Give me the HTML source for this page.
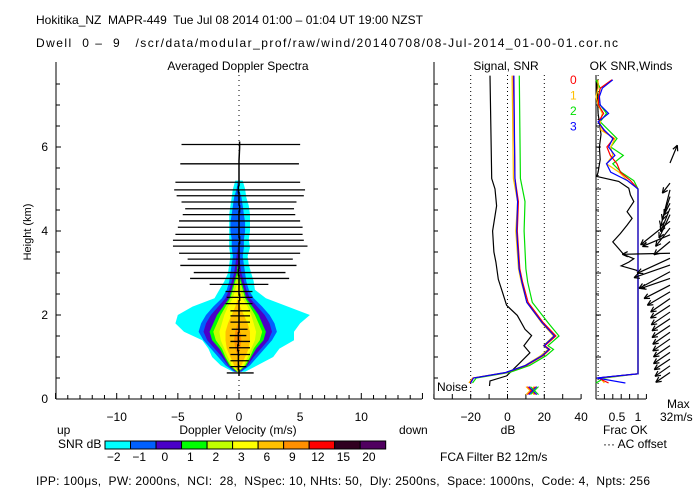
<!DOCTYPE html>
<html><head><meta charset="utf-8">
<style>
html,body{margin:0;padding:0;background:#fff;}
svg{display:block;font-family:"Liberation Sans",sans-serif;font-size:12px;}
text{fill:#000;white-space:pre;}
</style></head>
<body>
<svg id="chart" width="700" height="500" viewBox="0 0 700 500" xmlns="http://www.w3.org/2000/svg">
<rect x="0" y="0" width="700" height="500" fill="#fff"/>
<text x="36" y="24" textLength="387" lengthAdjust="spacing">Hokitika_NZ  MAPR-449  Tue Jul 08 2014 01:00 – 01:04 UT 19:00 NZST</text>
<text x="36" y="47" textLength="582" lengthAdjust="spacing">Dwell  0 –  9   /scr/data/modular_prof/raw/wind/20140708/08-Jul-2014_01-00-01.cor.nc</text>
<text x="238" y="70" text-anchor="middle">Averaged Doppler Spectra</text>
<text x="506" y="70" text-anchor="middle">Signal, SNR</text>
<text x="631" y="70" text-anchor="middle">OK SNR,Winds</text>
<text x="0" y="0" transform="translate(31,232) rotate(-90)" text-anchor="middle" font-size="11">Height (km)</text>
<text x="57" y="434">up</text>
<text x="238" y="434" text-anchor="middle">Doppler Velocity (m/s)</text>
<text x="399" y="434">down</text>
<text x="58" y="448">SNR dB</text>
<text x="508" y="434" text-anchor="middle">dB</text>
<text x="440" y="461">FCA Filter B2 12m/s</text>
<text x="603" y="434">Frac OK</text>
<text x="603" y="448">··· AC offset</text>
<text x="667" y="408">Max</text>
<text x="660" y="421">32m/s</text>
<text x="437" y="391">Noise</text>
<text x="36" y="485" textLength="614" lengthAdjust="spacing">IPP: 100μs,  PW: 2000ns,  NCI:  28,  NSpec: 10, NHts: 50,  Dly: 2500ns,  Space: 1000ns,  Code: 4,  Npts: 256</text>
<g id="plot"></g>
</svg>
<script>
// ---------- data ----------
const contourH = [0.65,0.8,1.0,1.2,1.4,1.6,1.8,2.0,2.2,2.4,2.6,2.8,3.0,3.2,3.4,3.6,3.8,4.0,4.2,4.4,4.6,4.8,5.0,5.2];
const cyanLeft  = [-0.5,-1.5,-2.2,-2.5,-3.0,-4.5,-5.2,-5.0,-3.8,-2.0,-1.6,-1.2,-0.9,-0.8,-0.7,-0.8,-0.8,-0.8,-0.8,-0.8,-0.7,-0.6,-0.5,-0.3];
const cyanRight = [0.5,1.5,2.8,3.3,4.5,4.5,5.0,5.8,4.0,2.2,1.3,1.2,1.0,0.8,0.7,0.9,0.8,0.9,0.9,0.9,0.8,0.6,0.5,0.3];
const blueHalf   = [0.3,1.0,1.6,2.2,2.8,3.2,3.0,2.6,2.0,1.3,0.9,0.7,0.6,0.5,0.4,0.5,0.5,0.6,0.6,0.5,0.4,0.3,0.1,0];
const purpleHalf = [0.2,0.8,1.3,1.9,2.5,2.8,2.6,2.2,1.6,1.0,0.7,0.5,0.3,0.2,0.1,0,0,0,0,0,0,0,0,0];
const greenHalf  = [0.1,0.7,1.1,1.5,2.1,2.3,2.0,1.7,1.2,0.7,0.5,0.3,0.1,0,0,0,0,0,0,0,0,0,0,0];
const ygHalf     = [0,0.6,1.0,1.3,1.8,2.0,1.7,1.4,1.0,0.6,0.4,0.2,0,0,0,0,0,0,0,0,0,0,0,0];
const yellowHalf = [0,0.5,0.8,1.1,1.4,1.5,1.3,1.1,0.8,0.4,0.2,0,0,0,0,0,0,0,0,0,0,0,0,0];
const orangeHalf = [0,0.3,0.6,0.9,1.0,1.0,0.8,0.5,0.2,0,0,0,0,0,0,0,0,0,0,0,0,0,0,0];
const dkOrangeHalf=[0,0,0,0.2,0.3,0.2,0,0,0,0,0,0,0,0,0,0,0,0,0,0,0,0,0,0];

const barH  = [0.62,0.77,0.91,1.06,1.22,1.37,1.51,1.66,1.83,1.98,2.1,2.27,2.42,2.56,2.73,2.87,3.01,3.18,3.33,3.47,3.64,3.78,3.92,4.09,4.24,4.39,4.53,4.69,4.84,4.98,5.16,5.6,6.06];
const barLo = [-1.0,-0.7,-0.7,-0.7,-0.8,-0.7,-0.75,-0.6,-0.7,-0.7,-0.7,-1.1,-1.0,-1.1,-2.4,-4.0,-3.7,-4.8,-4.2,-4.9,-5.4,-5.4,-5.2,-5.0,-4.9,-4.6,-4.4,-4.7,-5.1,-5.3,-5.2,-4.8,-4.7];
const barHi = [1.2,0.6,0.8,0.9,0.9,0.9,0.6,0.7,0.9,0.9,0.9,1.1,1.1,1.1,2.4,4.1,3.8,4.7,4.4,5.0,5.6,5.3,5.2,5.2,5.0,4.6,4.5,4.7,5.3,5.4,5.0,4.9,5.0];
const meanV = [0.0,-0.05,-0.05,-0.05,-0.1,-0.05,-0.05,0.0,0.0,0.0,0.0,0.0,0.05,0.0,0.0,0.0,-0.05,0.0,0.0,0.0,0.0,0.05,0.0,0.0,0.0,0.0,0.05,0.0,0.0,-0.05,0.0,0.0,0.05];

const snrH    = [0.38,0.5,0.63,0.8,1.03,1.18,1.27,1.5,1.82,2.3,2.78,3.1,4.0,4.7,5.25,7.7];
const snrRed  = [-20.4,-18.6,-0.5,10.3,19.4,23,20.3,26.3,19.4,11.2,8.2,6.7,5.3,5.9,4.1,3.2];
const snrOrange=[-21,-19,-1,9.5,18,22,19.5,25,18.5,10.5,7.5,6,4.5,5.5,3.2,2.5];
const snrGreen= [-19,-17,1,12,21,25,22,28,22,13.5,11,10,9,9.5,7,6.4];
const snrBlue = [-20,-18.5,-1,9.8,18.8,22.5,19.8,25.5,18.8,10.5,7.8,6.3,5.0,5.5,4.0,3.5];
const sigH    = [0.31,0.43,0.55,0.86,1.1,1.27,1.51,1.66,1.99,2.23,2.54,2.85,3.26,3.5,4.0,4.6,5.0,5.25,7.7];
const sigVals = [-9.8,-9.5,-0.5,6.7,12.2,8.9,13.1,9.5,5.3,-0.5,-2.7,-5.0,-6.3,-7.4,-8.1,-5.9,-6.8,-8.6,-9.5];
const crossDb = [12.2,13.0,13.8,14.7];

const fracH      = [7.6,7.4,7.2,7.0,6.8,6.6,6.4,6.2,6.0,5.8,5.6,5.4,5.2,5.0,0.6,0.5,0.38];
const fracRed    = [0.38,0.1,0.06,0.06,0.18,0.06,0.18,0.42,0.26,0.34,0.5,0.58,0.82,1,1,0.05,0.3];
const fracOrange = [0.05,0.05,0.0,0.05,0.15,0.1,0.12,0.45,0.35,0.4,0.25,0.55,0.75,1,1,0.1,0.2];
const fracGreen  = [0.0,0.1,0.05,0.1,0.25,0.1,0.3,0.5,0.35,0.65,0.4,0.6,0.9,1,1,0.2,0.0];
const fracBlue   = [0.4,0.15,0.08,0.1,0.3,0.05,0.2,0.4,0.3,0.45,0.25,0.35,0.75,1,1,0.02,0.7];
const okH    = [7.6,6.8,6.3,6.0,5.7,5.4,5.3,5.18,5.02,4.86,4.7,4.46,4.3,4.14,3.94,3.74,3.58,3.44,3.34,3.26,3.17,3.06,2.94,0.6,0.5];
const okVals = [0.02,0.05,0.12,0.08,0.1,0.05,0.02,0.54,0.78,0.82,0.9,0.74,0.86,0.74,0.58,0.4,0.54,0.66,0.9,0.78,0.6,0.98,1.0,1.0,0.05];

const windH = [5.62,5.14,4.98,4.82,4.66,4.54,4.39,4.23,4.07,3.91,3.75,3.47,3.35,3.19,3.03,2.87,2.71,2.55,2.39,2.23,2.07,1.91,1.75,1.59,1.43,1.27,1.11,0.95,0.79,0.63];
const windU = [4.9,-5.1,-6.2,-5.1,-4,-6.2,-7.3,-19.6,-9.6,-18.4,-10.7,-31.8,-21.8,-24,-20.7,-19.6,-17.3,-15.1,-12.9,-13,-12.5,-12,-12,-11.5,-11.5,-11,-11,-10.5,-10,-9.5];
const windV = [11.8,-6.7,-24.4,-15.6,-7.8,-15.6,-15.6,-15.6,-12.2,-7.8,-8.9,-0.7,-10,-8.4,-11.1,-6.7,-8.9,-8.9,-8.9,-8.5,-8.5,-8,-8,-8,-8,-7.5,-7.5,-7,-7,-6.5];

const cbLabels = ["−2","−1","0","1","2","3","6","9","12","15","20"];
const cbColors = ["#00ffff","#0060ff","#4a00c8","#00ff00","#c0ff00","#ffff00","#ffc000","#ff9000","#ff0000","#300020","#500060"];
const velTicks = [-10,-5,0,5,10];
const kmTicks = [0,2,4,6];
const dbTicks = [-20,0,20,40];
const legendNames = ["0","1","2","3"];
const legendColors = ["#ff0000","#ffc000","#00e000","#0000ff"];

// ---------- scales ----------
const vx = v => 239 + 12.23*v;
const hy = h => 399 - 42*h;
const dbx = d => 507.5 + 1.84*d;
const fx = f => 596 + 42*f;

const NS = "http://www.w3.org/2000/svg";
const root = document.getElementById("plot");
function mk(tag, attrs, parent){
  const e = document.createElementNS(NS, tag);
  for (const k in attrs) e.setAttribute(k, attrs[k]);
  (parent||root).appendChild(e);
  return e;
}
function ln(x1,y1,x2,y2,stroke,w,parent){
  return mk("line",{x1:x1,y1:y1,x2:x2,y2:y2,stroke:stroke,"stroke-width":w||1},parent);
}

// ---------- spectra contours ----------
const gC = mk("g",{});


function contour(left, right, color, name){
  const pts = [];
  for (let i=0;i<contourH.length;i++) pts.push(vx(left[i]).toFixed(1)+","+hy(contourH[i]).toFixed(1));
  for (let i=contourH.length-1;i>=0;i--) pts.push(vx(right[i]).toFixed(1)+","+hy(contourH[i]).toFixed(1));
  const p = mk("polygon",{points:pts.join(" "),fill:color},gC);
  
  
}
contour(cyanLeft, cyanRight, cbColors[0], "contour-snr-minus2");
const halves = [blueHalf,purpleHalf,greenHalf,ygHalf,yellowHalf,orangeHalf,dkOrangeHalf];
const hNames = ["contour-snr-minus1","contour-snr-0","contour-snr-1","contour-snr-2","contour-snr-3","contour-snr-6","contour-snr-9"];
halves.forEach((hw,k)=>{
  contour(hw.map(w=>-0.1-w), hw.map(w=>-0.1+w), cbColors[k+1], hNames[k]);
});

// zero line
const zl = ln(vx(0),75,vx(0),399,"#000",1);
zl.setAttribute("stroke-dasharray","1,4");



// error bars
const gB = mk("g",{});


barH.forEach((h,i)=>{
  const b = ln(vx(barLo[i]),hy(h),vx(barHi[i]),hy(h),"#000",1.3,gB);
  
  
});
const mpts = [];
barH.forEach((h,i)=>{ mpts.push(vx(meanV[i]).toFixed(1)+","+(hy(h)+3).toFixed(1)); mpts.push(vx(meanV[i]).toFixed(1)+","+(hy(h)-3).toFixed(1)); });
const ml = mk("polyline",{points:mpts.join(" "),fill:"none",stroke:"#000","stroke-width":1.5});



// ---------- axes ----------
const gA = mk("g",{});


ln(56,62,56,399,"#000",1,gA);
ln(56,399,422,399,"#000",1,gA);
for (let v=-15; v<=15; v++){ ln(vx(v),399,vx(v),v%5===0?393:395,"#000",1,gA); }
for (let h=0; h<=7.5; h+=0.5){ ln(56,hy(h),h%2===0?61:60,hy(h),"#000",1,gA); }
velTicks.forEach(v=>{
  const t = mk("text",{x:vx(v),y:421,"text-anchor":"middle"},gA); t.textContent = v===0?"0":(v<0?"−"+(-v):String(v));
  
  
});
kmTicks.forEach(h=>{
  const t = mk("text",{x:48,y:hy(h)+4,"text-anchor":"end"},gA); t.textContent = String(h);
  
  
});
// panel 2 axes
ln(434,62,434,399,"#000",1,gA);
ln(434,399,581,399,"#000",1,gA);
for (let h=0; h<=7.5; h+=0.5) ln(434,hy(h),438,hy(h),"#000",1,gA);
for (let d=-40; d<=40; d+=10) ln(dbx(d),399,dbx(d),394,"#000",1,gA);
[-20,0,20].forEach(d=>{ const g=ln(dbx(d),75,dbx(d),399,"#000",1,gA); g.setAttribute("stroke-dasharray","1,3"); });
dbTicks.forEach(d=>{
  const t = mk("text",{x:dbx(d),y:421,"text-anchor":"middle"},gA); t.textContent = d<0?"−"+(-d):String(d);
  
  
});
// panel 3 axes
ln(596,75,596,399,"#000",1,gA);
ln(596,399,646,399,"#000",1,gA);
for (let h=0; h<=7.5; h+=0.5) ln(596,hy(h),h%1===0?601:599,hy(h),"#000",1,gA);
for (let f=0; f<=1.21; f+=0.2) ln(fx(f),399,fx(f),394,"#000",1,gA);
const ac = ln(fx(0.05),75,fx(0.05),399,"#000",1,gA); ac.setAttribute("stroke-dasharray","1,3");
[["0.5",0.5],["1",1]].forEach(p=>{
  const t = mk("text",{x:fx(p[1]),y:421,"text-anchor":"middle"},gA); t.textContent=p[0];
  
  
});

// ---------- panel 2 lines ----------
function series(hs, vals, xs, color, name){
  const pts = hs.map((h,i)=>xs(vals[i]).toFixed(1)+","+hy(h).toFixed(1)).join(" ");
  const p = mk("polyline",{points:pts,fill:"none",stroke:color,"stroke-width":1.2});
  
  
}
series(sigH, sigVals, dbx, "#000", "signal-line");
series(snrH, snrGreen, dbx, legendColors[2], "snr-line-2");
series(snrH, snrOrange, dbx, legendColors[1], "snr-line-1");
series(snrH, snrRed, dbx, legendColors[0], "snr-line-0");
series(snrH, snrBlue, dbx, legendColors[3], "snr-line-3");
crossDb.forEach((d,i)=>{
  const g = mk("g",{});
  
  
  const x=dbx(d), y=hy(0.2);
  ln(x-4,y-4,x+4,y+4,legendColors[[1,0,3,2][i]],1,g);
  ln(x-4,y+4,x+4,y-4,legendColors[[1,0,3,2][i]],1,g);
});
legendNames.forEach((n,i)=>{
  const t = mk("text",{x:570,y:84+15.5*i,fill:legendColors[i],style:"fill:"+legendColors[i]});
  t.textContent = n;
  
  
});

// ---------- panel 3 ----------
series(okH, okVals, fx, "#000", "frac-ok-line");
series(fracH, fracGreen, fx, legendColors[2], "frac-line-2");
series(fracH, fracOrange, fx, legendColors[1], "frac-line-1");
series(fracH, fracRed, fx, legendColors[0], "frac-line-0");
series(fracH, fracBlue, fx, legendColors[3], "frac-line-3");

// winds
const gW = mk("g",{});


windH.forEach((h,i)=>{
  const x0=670, y0=hy(h);
  const x1=x0+1.5*windU[i], y1=y0-1.5*windV[i];
  const g = mk("g",{},gW);
  
  
  ln(x0,y0,x1,y1,"#000",1.2,g);
  const ang = Math.atan2(y1-y0,x1-x0);
  [0.45,-0.45].forEach(a=>{
    ln(x1,y1,x1-6*Math.cos(ang+a),y1-6*Math.sin(ang+a),"#000",1.2,g);
  });
});

// ---------- colorbar ----------
const gCB = mk("g",{});


const cw = (385.7-105)/cbColors.length;
cbColors.forEach((c,i)=>{
  const r = mk("rect",{x:105+i*cw,y:441,width:cw,height:8,fill:c,stroke:"#000","stroke-width":1},gCB);
  
  
  const t = mk("text",{x:105+i*cw+cw/2-4,y:461,"text-anchor":"middle"},gCB);
  t.textContent = cbLabels[i];
  
  
});
</script>
</body></html>
